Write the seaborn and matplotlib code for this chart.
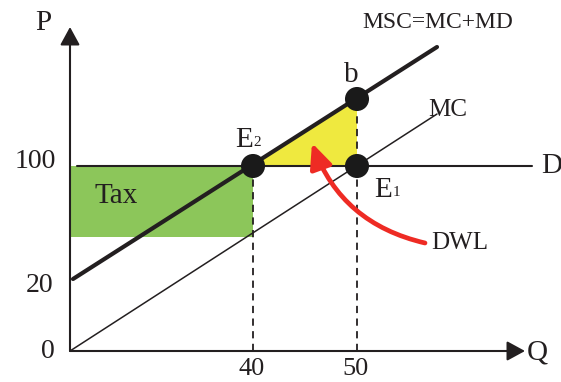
import matplotlib
matplotlib.use("Agg")
import matplotlib.pyplot as plt
import seaborn as sns
from matplotlib.patches import Polygon, Rectangle, FancyArrowPatch

# ---- schematic diagram data (diagram units, origin at Q=0, P=0) ----
msc_q = [3, 367]
msc_p = [72, 304]
mc_q = [0, 367]
mc_p = [0, 237]
d_q = [7, 462]
d_p = [185, 185]
pts_q = [183, 287, 287]          # E2, E1, b
pts_p = [185, 185, 252]
tax_q = [0, 183]
tax_p = [114, 185]
q_tick_pos = [183, 287]
q_tick_labels = ["40", "50"]
p_tick_pos = [0, 72, 185]
p_tick_labels = ["0", "20", "100"]
axis_q_end = 455
axis_p_end = 324
dwl_from = (355, 108)
dwl_to = (242, 208)

sns.set_style("white")
plt.rcParams["font.family"] = ["Liberation Serif", "DejaVu Serif"]

fig = plt.figure(figsize=(5.61, 3.82), dpi=100)
ax = fig.add_axes([0, 0, 1, 1])
ax.set_xlim(-70, 491)
ax.set_ylim(-31, 351)
ax.axis("off")

ink = "#231f20"

# Tax rectangle
ax.add_patch(Rectangle((tax_q[0], tax_p[0]), tax_q[1] - tax_q[0], tax_p[1] - tax_p[0],
                       facecolor="#8cc65a", edgecolor="none", zorder=1))
# DWL triangle
ax.add_patch(Polygon([(pts_q[0], pts_p[0]), (pts_q[2], pts_p[2]), (pts_q[1], pts_p[1])],
                     closed=True, facecolor="#efe93f", edgecolor="none", zorder=1))

# Lines
sns.lineplot(x=d_q, y=d_p, ax=ax, color=ink, linewidth=1.5, zorder=2)
sns.lineplot(x=mc_q, y=mc_p, ax=ax, color=ink, linewidth=1.1, zorder=2)
sns.lineplot(x=msc_q, y=msc_p, ax=ax, color=ink, linewidth=3.0, zorder=3)

# Dashed verticals
for i in (0, 2):
    sns.lineplot(x=[pts_q[i], pts_q[i]], y=[0, pts_p[i]], ax=ax, color=ink,
                 estimator=None, errorbar=None, sort=False,
                 linewidth=1.3, linestyle=(0, (4, 3)), zorder=2)

# Axes with arrows
for end in [(axis_q_end, 0), (0, axis_p_end)]:
    ax.add_patch(FancyArrowPatch((0, 0), end, arrowstyle="-|>,head_length=0.55,head_width=0.3",
                                 mutation_scale=20, color=ink, lw=1.5,
                                 shrinkA=0, shrinkB=0, zorder=4))

# Points
sns.scatterplot(x=pts_q, y=pts_p, ax=ax, s=300, color="#1a1a1a", edgecolor="none", zorder=5)

# DWL arrow
ax.add_patch(FancyArrowPatch(dwl_from, dwl_to, connectionstyle="arc3,rad=-0.27",
                             arrowstyle="-|>,head_length=1.0,head_width=0.45",
                             mutation_scale=15, color="#ee2b24", lw=3.4,
                             shrinkA=0, shrinkB=0, zorder=6))

fs = 20
# Tick labels
for pos, lab in zip(q_tick_pos, q_tick_labels):
    ax.text(pos - 1, -18, lab, fontsize=19, ha="center", va="center", color=ink)
ax.text(-35, 189, p_tick_labels[2], fontsize=fs, ha="center", va="center", color=ink)
ax.text(-30, 66, p_tick_labels[1], fontsize=fs, ha="center", va="center", color=ink)
ax.text(-22, 0, p_tick_labels[0], fontsize=fs, ha="center", va="center", color=ink)

# Axis titles
ax.text(-27, 328, "P", fontsize=21, ha="center", va="center", color=ink)
ax.text(467, -1, "Q", fontsize=21, ha="center", va="center", color=ink)

# Curve labels
ax.text(368, 329, "MSC=MC+MD", fontsize=17, ha="center", va="center", color=ink)
ax.text(378, 241, "MC", fontsize=18, ha="center", va="center", color=ink)
ax.text(482, 185, "D", fontsize=21, ha="center", va="center", color=ink)
ax.text(281, 276, "b", fontsize=21, ha="center", va="center", color=ink)
ax.text(46, 155, "Tax", fontsize=21, ha="center", va="center", color=ink)
ax.text(390, 108, "DWL", fontsize=18, ha="center", va="center", color=ink)

# E labels with small index
ax.text(174, 211, "E", fontsize=21, ha="center", va="center", color=ink)
ax.text(187, 208, "2", fontsize=11, ha="center", va="center", color=ink)
ax.text(313, 161, "E", fontsize=21, ha="center", va="center", color=ink)
ax.text(326, 158, "1", fontsize=11, ha="center", va="center", color=ink)

fig.savefig("out.png", dpi=100)
